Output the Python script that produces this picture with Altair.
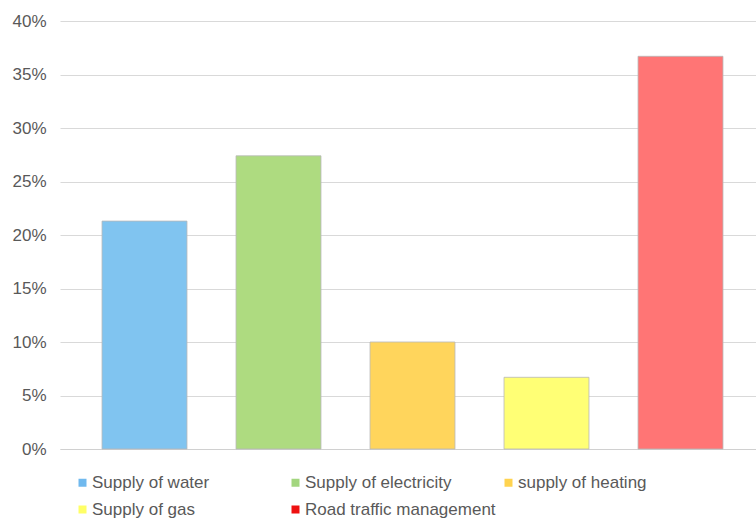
import altair as alt
import pandas as pd

# Share of responses per infrastructure service
categories = [
    "Supply of water",
    "Supply of electricity",
    "supply of heating",
    "Supply of gas",
    "Road traffic management",
]
shares = [0.213, 0.274, 0.100, 0.067, 0.367]

bar_colors = ["#80c4f0", "#aedb80", "#ffd55c", "#ffff75", "#ff7575"]
legend_colors = ["#70b9ee", "#a3d67f", "#ffd34f", "#ffff66", "#ee1111"]

df = pd.DataFrame({"category": categories, "share": shares})

font = "Liberation Sans"
grey = "#595959"

x_enc = alt.X(
    "category:N",
    sort=categories,
    title=None,
    scale=alt.Scale(paddingInner=0.366, paddingOuter=0.28, align=0.56),
    axis=alt.Axis(labels=False, ticks=False, domain=True, domainColor="#d0d0d0", grid=False),
)
y_enc = alt.Y(
    "share:Q",
    title=None,
    scale=alt.Scale(domain=[0, 0.4], nice=False),
    axis=alt.Axis(
        format=".0%",
        values=[0, 0.05, 0.10, 0.15, 0.20, 0.25, 0.30, 0.35, 0.40],
        ticks=False,
        domain=False,
        labelPadding=14,
        labelFontSize=17,
        labelColor=grey,
        labelFont=font,
        gridColor="#d9d9d9",
        gridWidth=1,
    ),
)

bars = alt.Chart(df).mark_bar(stroke="#b8b8b8", strokeWidth=1, strokeOpacity=0.8).encode(
    x=x_enc,
    y=y_enc,
    color=alt.Color(
        "category:N",
        sort=categories,
        scale=alt.Scale(domain=categories, range=bar_colors),
        legend=None,
    ),
)

# Invisible layer that carries the legend with its own swatch colours
legend_layer = alt.Chart(df).mark_square(opacity=0).encode(
    x=alt.value(0),
    y=alt.value(0),
    color=alt.Color(
        "category:N",
        sort=categories,
        scale=alt.Scale(domain=categories, range=legend_colors),
        legend=alt.Legend(
            title=None,
            orient="none",
            legendX=14,
            legendY=453,
            padding=0,
            direction="horizontal",
            columns=3,
            gridAlign="all",
            columnPadding=4,
            rowPadding=9,
            symbolType="square",
            symbolSize=64,
            symbolOpacity=1,
            symbolStrokeWidth=0,
            symbolOffset=0,
            labelOffset=1,
            labelFontSize=17,
            labelFont=font,
            labelColor=grey,
            labelLimit=300,
        ),
    ),
)

chart = (
    alt.layer(bars, legend_layer)
    .resolve_scale(color="independent")
    .properties(
        width=696,
        height=428,
        background="white",
        autosize=alt.AutoSizeParams(type="none"),
        padding={"left": 60, "top": 21, "right": 0, "bottom": 71},
    )
    .configure_view(stroke=None)
)

chart.save("out.html", embed_options={"renderer": "svg", "actions": False})
